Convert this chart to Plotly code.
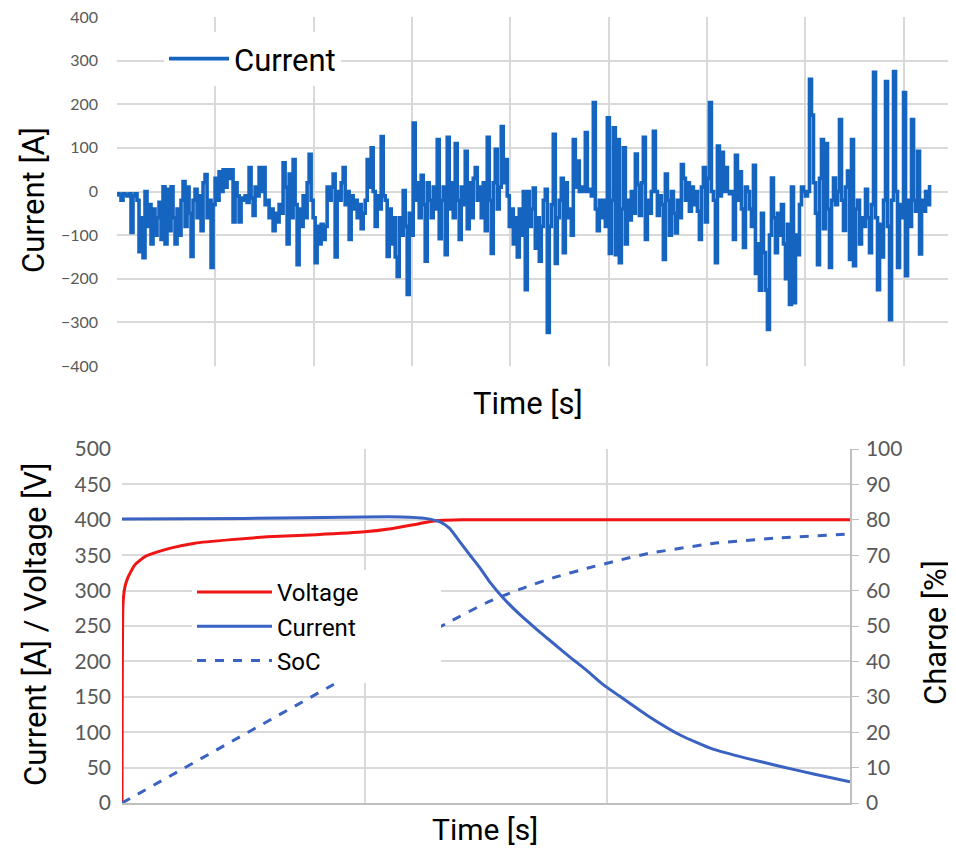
import numpy as np
import plotly.graph_objects as go

# ---------------- Top panel: measured current profile ----------------
top_dt = 2.035  # s between samples
top_current = [
    -5, -8, -20, -5, -8, -10, -5, -94, -10, -5,
    -20, -138, -60, -152, 0, -80, -30, -120, -40, -100,
    -60, -25, -110, 11, -120, 5, -90, 11, -60, -120,
    -40, -100, -20, 23, -80, 10, -50, -149, -20, 5,
    -60, -10, -90, 20, 39, -60, -20, -174, -30, 30,
    -20, 45, 0, 50, 10, 50, 30, 50, -70, 20,
    -10, -70, -15, -20, -10, -25, 55, -15, -55, 10,
    -10, 55, 0, 55, -30, -20, -60, -40, -90, -50,
    -70, -30, -50, 66, 10, -120, 40, -60, 73, -30,
    -168, -40, -80, -10, -60, 20, 85, -20, -60, -163,
    -80, -120, -75, -110, -80, 10, -20, 10, 40, -150,
    0, -20, 20, 55, -30, 0, -110, -10, -40, -20,
    -60, -30, -85, -50, -20, 73, 10, 100, 0, -80,
    -10, -40, 126, -10, -20, -149, -40, -120, -60, -150,
    -195, -60, -100, 2, -80, -236, -50, -100, 157, -20,
    20, -60, 37, -30, -160, 20, -20, -60, 10, -40,
    119, -108, -20, 10, -145, 124, -40, 20, -60, 110,
    -20, -110, 10, -30, 92, -85, 20, -60, 30, 55,
    -20, 10, -60, 20, -90, 124, -20, -142, 20, 97,
    -40, 10, 149, 20, 73, -10, -80, -40, -120, -60,
    -150, -40, -100, 0, -225, 0, -80, -40, 8, -130,
    -60, -160, -80, -20, 5, -323, -80, -30, 131, -165,
    -60, -20, 30, -140, 20, -60, -40, -100, 119, 10,
    70, 0, 10, 0, 135, 0, 5, -10, 204, -40,
    -90, -20, -60, -20, -80, 169, -142, -20, 146, -145,
    119, -163, -40, 100, -120, -20, -65, 0, -50, 86,
    15, -55, 20, 124, -110, -20, -50, 0, 138, 0,
    -55, -10, -30, -156, 40, -20, -100, 0, -50, -95,
    -20, -60, 62, 30, -20, 20, -45, 10, -30, 0,
    -45, -110, 10, 55, -70, 30, 204, 0, -20, -163,
    104, -10, 90, 0, 55, 0, -5, 0, -110, 83,
    -20, 45, -40, -128, 10, 0, -40, -80, 60, -188,
    -120, -226, -50, -140, -226, -316, -100, 31, -60, -140,
    -50, -100, -30, -120, -200, -75, -259, 10, -255, -100,
    -145, -30, 10, 0, -10, 0, 257, 175, 20, -50,
    -168, 30, 119, -85, 110, -40, -174, -20, 31, -30,
    0, 165, -20, -89, 10, 47, -156, 119, -170, -40,
    -20, -120, -60, -80, 5, -60, -140, -30, 273, -60,
    -225, -75, -150, -20, 252, -80, -294, -20, 275, 0,
    -174, -30, -60, 227, -193, -20, -80, 165, -20, -45,
    92, -143, -20, -45, 0, -30, 15,
]
top_time = np.arange(len(top_current)) * top_dt

# ---------------- Bottom panel: CC-CV charge ----------------
volt_time = [0, 0.004, 0.012, 0.025, 0.05, 0.075, 0.1, 0.15, 0.2, 0.3, 0.45,
             0.6, 0.8, 1.0, 1.1, 1.2, 1.26, 1.31, 1.4, 1.6, 2.0, 2.5, 3.0]
voltage = [0, 280, 305, 319, 335, 343, 349, 355, 360, 367, 372,
           376, 379, 383, 387, 393, 397, 399, 400, 400, 400, 400, 400]

cur_time = [0, 0.5, 1.0, 1.15, 1.25, 1.31, 1.35, 1.39, 1.434, 1.475, 1.516, 1.57,
            1.64, 1.71, 1.776, 1.846, 1.916, 1.98, 2.05, 2.163, 2.3, 2.435,
            2.575, 2.71, 2.85, 3.0]
current = [401, 402, 404, 404, 402, 397, 388, 370, 350, 332, 312, 290,
           266, 245, 226, 206, 187, 168, 151, 124, 96, 76,
           63, 52, 41, 30]

soc_time = [0, 0.87, 1.35, 1.5, 1.64, 1.776, 1.916, 2.05, 2.163, 2.435, 2.71, 3.0]
soc = [0, 33.4, 51.2, 56.5, 60.4, 63.6, 66.3, 68.6, 70.4, 73.3, 74.9, 76.0]

# page geometry (the page body has an 8 px margin)
OX, OY = 8, 8
W, H = 948, 841
def px(x):
    return (x - OX) / W
def py(y):
    return 1 - (y - OY) / H

GRID = "#d9d9d9"
TICK = "#595959"
TFONT = "Roboto"
NFONT = "Lato"
PAD = "\u00a0" * 13

fig = go.Figure()

fig.add_trace(go.Scatter(x=top_time, y=top_current, mode="lines", name="Current",
                         line=dict(color="#1565c0", width=3.6, shape="hv"),
                         xaxis="x", yaxis="y", legend="legend"))

fig.add_trace(go.Scatter(x=volt_time, y=voltage, mode="lines", name="Voltage" + PAD,
                         line=dict(color="#f01414", width=3, shape="spline", smoothing=0.4),
                         xaxis="x2", yaxis="y2", legend="legend2", legendgroup="a"))
fig.add_trace(go.Scatter(x=cur_time, y=current, mode="lines", name="Current",
                         line=dict(color="#3a62c2", width=3, shape="spline", smoothing=0.5),
                         xaxis="x2", yaxis="y2", legend="legend2", legendgroup="b"))
fig.add_trace(go.Scatter(x=soc_time, y=soc, mode="lines", name="SoC",
                         line=dict(color="#3a62c2", width=3, dash="dash", shape="spline", smoothing=0.5),
                         xaxis="x2", yaxis="y3", legend="legend2", legendgroup="c"))

fig.update_layout(
    width=W, height=H,
    margin=dict(l=0, r=0, t=0, b=0, pad=0, autoexpand=False),
    paper_bgcolor="white", plot_bgcolor="white",
    xaxis=dict(domain=[px(117), px(950)], range=[0, 847], dtick=100, tick0=0,
               showticklabels=False, showgrid=True, gridcolor=GRID, gridwidth=1.5,
               zeroline=False, showline=False, anchor="y", automargin=False),
    yaxis=dict(domain=[py(366), py(17)], range=[-400, 400], dtick=100,
               showgrid=True, gridcolor=GRID, gridwidth=1.5, zeroline=False,
               tickfont=dict(family=NFONT, size=16, color=TICK),
               ticklabelstandoff=18, ticklabeloverflow="allow",
               anchor="x", automargin=False),
    xaxis2=dict(domain=[px(122), px(850)], range=[0, 3], dtick=1,
                showticklabels=False, showgrid=True, gridcolor=GRID, gridwidth=1.5,
                zeroline=False, showline=True, linecolor="#bfbfbf", linewidth=1.5,
                anchor="y2", automargin=False),
    yaxis2=dict(domain=[py(803), py(449)], range=[0, 500], dtick=50,
                showgrid=True, gridcolor=GRID, gridwidth=1.5, zeroline=False,
                tickfont=dict(family=NFONT, size=21, color=TICK),
                ticklabelstandoff=10, ticklabeloverflow="allow",
                anchor="x2", automargin=False),
    yaxis3=dict(overlaying="y2", side="right", range=[0, 100], dtick=10,
                showgrid=False, zeroline=False, showline=True, linecolor="#bfbfbf",
                linewidth=1.5, ticks="outside", ticklen=7, tickcolor="#bfbfbf",
                tickfont=dict(family=NFONT, size=21, color=TICK),
                ticklabelstandoff=3, ticklabeloverflow="allow",
                anchor="x2", automargin=False),
    legend=dict(x=px(164), y=py(32), xanchor="left", yanchor="top",
                bgcolor="white", font=dict(family=TFONT, size=31, color="black"),
                itemwidth=60),
    legend2=dict(x=px(192), y=py(570), xanchor="left", yanchor="top",
                 bgcolor="white", font=dict(family=TFONT, size=24, color="black"),
                 itemwidth=75, traceorder="grouped", tracegroupgap=0),
    showlegend=True,
)

ann = [
    dict(text="Current [A]", x=px(33), y=py(200), textangle=-90, size=31),
    dict(text="Time [s]", x=px(528), y=py(403), textangle=0, size=31),
    dict(text="Current [A] / Voltage [V]", x=px(35), y=py(625), textangle=-90, size=31),
    dict(text="Charge [%]", x=px(935), y=py(633), textangle=-90, size=31),
    dict(text="Time [s]", x=px(485), y=py(829), textangle=0, size=30),
]
for a in ann:
    fig.add_annotation(text=a["text"], x=a["x"], y=a["y"], xref="paper", yref="paper",
                       xanchor="center", yanchor="middle", showarrow=False,
                       textangle=a["textangle"],
                       font=dict(family=TFONT, size=a["size"], color="black"))

fig.write_html("out.html")
